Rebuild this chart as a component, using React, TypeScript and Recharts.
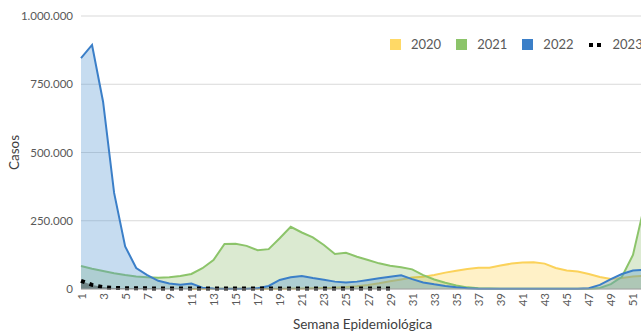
import React from "react";
import {
  AreaChart,
  Area,
  XAxis,
  YAxis,
  CartesianGrid,
  Legend,
  Label,
} from "recharts";

const FONT = "Lato, 'Open Sans', sans-serif";

// semanas epidemiológicas 1..52
const weeks = Array.from({ length: 52 }, (_, i) => i + 1);

const casos2020: (number | null)[] = [
  null, null, null, null, null, null, null, null, null, null,
  0, 1000, 1000, 1000, 1000, 1000, 1000, 1000, 1000, 2000,
  2000, 3000, 4000, 5000, 7000, 10000, 15000, 21000, 28000, 35000,
  42000, 45000, 51000, 60000, 67000, 73000, 78000, 78000, 86000, 93000,
  97000, 98000, 93000, 77000, 68000, 64000, 55000, 44000, 37000, 40000,
  46000, 48000,
];

const casos2021 = [
  84000, 74000, 66000, 58000, 51000, 46000, 43000, 41000, 43000, 48000,
  55000, 76000, 106000, 165000, 166000, 158000, 142000, 146000, 186000, 228000,
  207000, 189000, 161000, 128000, 133000, 118000, 106000, 94000, 85000, 80000,
  72000, 51000, 35000, 23000, 13000, 6000, 3000, 2000, 1000, 1000,
  1000, 1000, 1000, 1000, 1000, 1000, 1000, 4000, 18000, 45000,
  125000, 300000,
];

const casos2022 = [
  846000, 894000, 686000, 352000, 156000, 77000, 51000, 30000, 20000, 16000,
  20000, 5000, 2000, 1000, 1000, 1000, 3000, 11000, 33000, 43000,
  48000, 40000, 34000, 27000, 24000, 27000, 33000, 39000, 45000, 50000,
  36000, 24000, 17000, 11000, 6000, 3000, 1000, 1000, 1000, 1000,
  1000, 1000, 1000, 1000, 1000, 1000, 3000, 15000, 36000, 55000,
  68000, 70000,
];

// 2023 solo hasta la semana 29
const casos2023 = [
  30000, 15000, 7000, 4000, 3000, 2500, 2500, 2000, 2000, 2000,
  2000, 2000, 2000, 2000, 2000, 2000, 2000, 2000, 2000, 2000,
  2000, 2000, 2000, 2000, 2000, 2000, 2000, 2000, 2000,
];

const yTicks = [0, 250000, 500000, 750000, 1000000];

const data = weeks.map((w, i) => ({
  semana: w,
  y2020: casos2020[i],
  y2021: casos2021[i],
  y2022: casos2022[i],
  y2023: i < casos2023.length ? casos2023[i] : null,
}));

const fmtMiles = (v: number) => String(v).replace(/\B(?=(\d{3})+(?!\d))/g, ".");

const WeekTick = (props: any) => {
  const { x, y, payload } = props;
  return (
    <text
      x={x}
      y={y}
      transform={`rotate(-90 ${x} ${y})`}
      textAnchor="end"
      dominantBaseline="central"
      fontSize={11.5}
      fontFamily={FONT}
      fill="#595959"
    >
      {payload.value}
    </text>
  );
};

const legendItems = [
  { name: "2020", color: "#ffd966" },
  { name: "2021", color: "#8cc46a" },
  { name: "2022", color: "#3b7fc8" },
  { name: "2023", color: "#000000", dots: true },
];

const YearLegend = () => (
  <div style={{ display: "flex", alignItems: "center", fontFamily: FONT, fontSize: 13, color: "#595959", whiteSpace: "nowrap" }}>
    {legendItems.map((it) => (
      <div key={it.name} style={{ display: "flex", alignItems: "center", marginRight: 15 }}>
        {it.dots ? (
          <svg width={14} height={11} style={{ marginRight: 10 }}>
            <rect x={0} y={4} width={4} height={4} fill="#000" />
            <rect x={8} y={4} width={4} height={4} fill="#000" />
          </svg>
        ) : (
          <span style={{ display: "inline-block", width: 11, height: 11, background: it.color, marginRight: 10 }} />
        )}
        <span>{it.name}</span>
      </div>
    ))}
  </div>
);

export default function App() {
  return (
    <div style={{ position: "absolute", left: 0, top: 0, width: 641, height: 331, overflow: "hidden", background: "#fff" }}>
      <AreaChart width={660} height={331} data={data} margin={{ top: 16, right: 16, left: 0, bottom: 0 }}>
        <CartesianGrid vertical={false} stroke="#d9d9d9" />
        <XAxis
          dataKey="semana"
          interval={1}
          height={42}
          tickSize={0}
          tickMargin={4}
          tick={<WeekTick />}
          axisLine={{ stroke: "#a6a6a6" }}
          tickLine={false}
        >
          <Label
            value="Semana Epidemiológica"
            position="insideBottom"
            offset={2}
            style={{ fontFamily: FONT, fontSize: 13.5, fill: "#404040" }}
          />
        </XAxis>
        <YAxis
          width={81}
          domain={[0, 1000000]}
          ticks={yTicks}
          tickFormatter={fmtMiles}
          tickSize={0}
          tickMargin={8}
          axisLine={false}
          tickLine={false}
          tick={{ fontSize: 11.5, fontFamily: FONT, fill: "#595959" }}
        >
          <Label
            value="Casos"
            angle={-90}
            position="insideLeft"
            offset={14}
            style={{ fontFamily: FONT, fontSize: 13.5, fill: "#404040", textAnchor: "middle" }}
          />
        </YAxis>
        {/* horizontal + middle + center: the legend takes no room from the plot */}
        <Legend
          layout="horizontal"
          verticalAlign="middle"
          align="center"
          wrapperStyle={{ top: 36, left: 390, width: 320 }}
          content={<YearLegend />}
        />
        <Area
          type="linear"
          dataKey="y2020"
          name="2020"
          stroke="#fbd25a"
          strokeWidth={2}
          fill="#ffc000"
          fillOpacity={0.22}
          dot={false}
          activeDot={false}
          isAnimationActive={false}
        />
        <Area
          type="linear"
          dataKey="y2021"
          name="2021"
          stroke="#8cc46a"
          strokeWidth={2}
          fill="#70ad47"
          fillOpacity={0.25}
          dot={false}
          activeDot={false}
          isAnimationActive={false}
        />
        <Area
          type="linear"
          dataKey="y2022"
          name="2022"
          stroke="#3b7fc8"
          strokeWidth={2}
          fill="#5b9bd5"
          fillOpacity={0.35}
          dot={false}
          activeDot={false}
          isAnimationActive={false}
        />
        <Area
          type="linear"
          dataKey="y2023"
          name="2023"
          stroke="#000000"
          strokeWidth={4}
          strokeDasharray="4 5"
          fill="#000000"
          fillOpacity={0.35}
          dot={false}
          activeDot={false}
          isAnimationActive={false}
        />
      </AreaChart>
    </div>
  );
}
